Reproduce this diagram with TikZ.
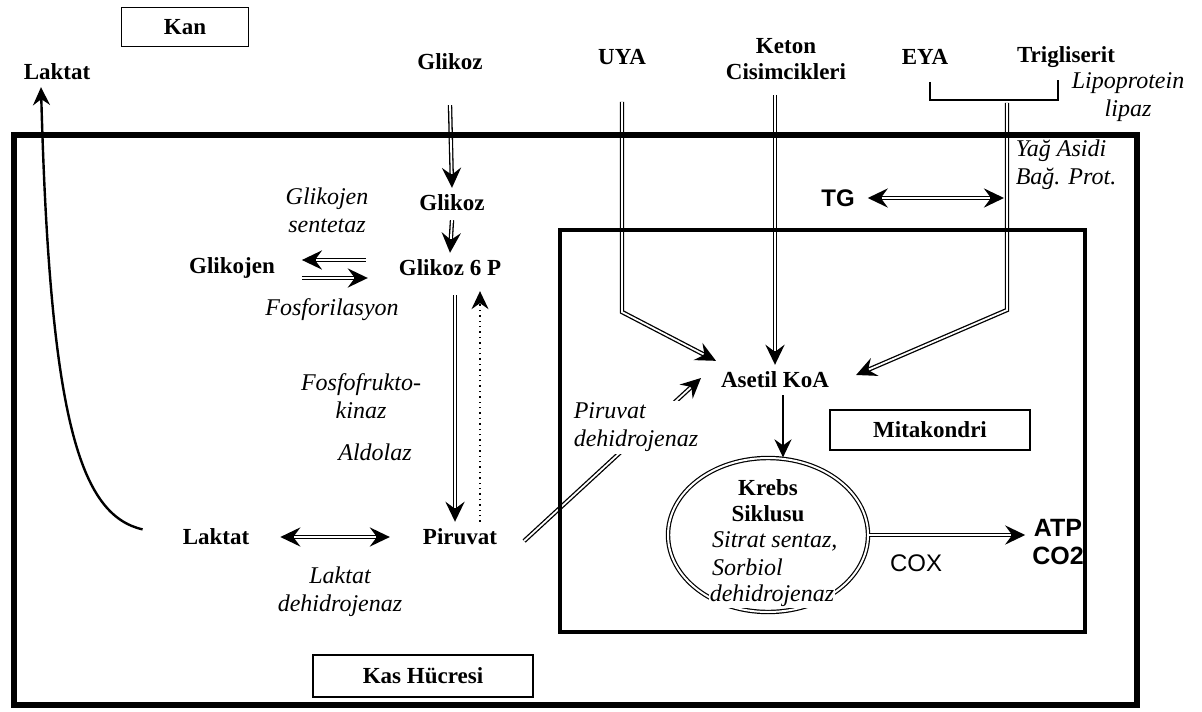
\documentclass[tikz,border=0pt]{standalone}
\usepackage{fontspec}
\setmainfont{Liberation Serif}
\setsansfont{Liberation Sans}
\usetikzlibrary{arrows.meta,shapes.geometric,calc}

\tikzset{
  molec/.style={font=\fontsize{11.5}{13}\selectfont\bfseries, align=center},
  enzyme/.style={font=\fontsize{12}{14}\selectfont\itshape, align=center},
  sanslab/.style={font=\sffamily\bfseries\fontsize{12.5}{14}\selectfont, align=center},
  kbox/.style={draw, line width=0.8pt, font=\fontsize{11.5}{13}\selectfont\bfseries},
  dbl/.style={line width=2.2pt, postaction={draw=white, line width=0.9pt}},
  dblhead/.style={line width=2.2pt, -{Stealth[length=10pt,width=9.5pt,inset=3.5pt]},
    postaction={draw=white, line width=0.9pt, -, shorten >=7pt}},
  dbltwo/.style={line width=2.2pt, {Stealth[length=10pt,width=9.5pt,inset=3.5pt]}-{Stealth[length=10pt,width=9.5pt,inset=3.5pt]},
    postaction={draw=white, line width=0.9pt, -, shorten >=7pt, shorten <=7pt}},
  headend/.style={-{Stealth[length=9pt,width=8.5pt,inset=3pt]}},
}

\begin{document}
\begin{tikzpicture}[x=0.5pt,y=-0.5pt]
  \useasboundingbox (0,0) rectangle (1202,711);

  % blood side
  \node[kbox, minimum width=63.5pt, minimum height=19.5pt] (kan) at (185,27) {Kan};
  \node[molec] (lakkan) at (57,72) {Laktat};
  \node[molec] (glkan) at (450,62) {Glikoz};
  \node[molec] (uya) at (622,57) {UYA};
  \node[molec] (keton) at (786,59) {Keton\\Cisimcikleri};
  \node[molec] (eya) at (925,57) {EYA};
  \node[molec] (tgkan) at (1066,57) {Trigliserit};
  \node[enzyme] (lpl) at (1128,97) {Lipoprotein\\lipaz};

  % cytosol
  \node[enzyme, align=left] (fabp) at (1066,165) {Yağ Asidi\\Bağ. Prot.};
  \node[sanslab, font=\sffamily\bfseries\fontsize{12}{14}\selectfont] (tg) at (838,198) {TG};
  \node[molec] (glic) at (452,203) {Glikoz};
  \node[molec] (g6p) at (450,268) {Glikoz 6 P};
  \node[molec] (glikojen) at (232,268) {Glikojen};
  \node[enzyme] (gs) at (327,210) {Glikojen\\sentetaz};
  \node[enzyme] (fosf) at (332,310) {Fosforilasyon};
  \node[enzyme] (pfk) at (361,396) {Fosfofrukto-\\kinaz};
  \node[enzyme] (aldo) at (375,452) {Aldolaz};
  \node[molec] (piruvat) at (460,537) {Piruvat};
  \node[molec] (laktat) at (216,537) {Laktat};
  \node[enzyme] (ldh) at (340,592) {Laktat\\dehidrojenaz};
  \node[kbox, minimum width=110pt, minimum height=21pt] (kas) at (423,676) {Kas Hücresi};

  % mitochondrion
  \node[molec] (aset) at (775,380) {Asetil KoA};
  \node[kbox, minimum width=100pt, minimum height=20pt] (mito) at (930,430) {Mitakondri};
  \node[draw, ellipse, double, double distance=1pt, line width=0.6pt, minimum width=100pt, minimum height=77pt, inner sep=0pt] (krebs) at (768,535) {};
  \node[molec] (krebst) at (768,501) {Krebs\\Siklusu};
  \node[enzyme, align=left, anchor=west] (cs) at (705,554) {Sitrat sentaz,\\Sorbiol};
  \node[enzyme, fill=white, inner sep=0.5pt] (sdh) at (772,596) {dehidrojenaz};
  \node[sanslab] (atp) at (1058,542) {ATP\\CO2};
  \node[sanslab, font=\sffamily\fontsize{12}{14}\selectfont] (cox) at (916,563) {COX};

  \coordinate (uyabend) at (622,312);
  \coordinate (lplmid) at (1007,103);
  \coordinate (eyabend) at (1007,310);

  % fatty acids, ketones
  \draw[line width=0.7pt] (930,82) -- (930,100) -- (1058,100) -- (1058,80);
  \draw[dblhead] ([yshift=-15pt]uya.south) -- (uyabend) -- ($(aset.north west)+(2,-4)$);
  \draw[dblhead] (aset.north |- 0,95) -- (aset.north);
  \draw[dblhead] (lplmid) -- (eyabend) -- ($(aset.east)+(20,-5)$);
  \draw[dbltwo] ([xshift=3pt]tg.east) -- ([xshift=-1.5pt]tg.east -| lplmid);

  % glycolysis
  \draw[dblhead] ([yshift=-14pt]glkan.south) -- (glic.north);
  \draw[dblhead] ([yshift=-1pt]glic.south) -- (g6p.north);
  \draw[dblhead] ([xshift=-13pt,yshift=4pt]g6p.west) -- ([xshift=10pt,yshift=4pt]glikojen.east);
  \draw[dblhead] ([xshift=10pt,yshift=-5pt]glikojen.east) -- ([xshift=-12pt,yshift=-5pt]g6p.west);
  \draw[dblhead] ([xshift=2.5pt,yshift=-6pt]g6p.south) -- ([xshift=2.5pt]g6p.south |- piruvat.north);
  \draw[dotted, line width=0.7pt, headend, shorten >=4pt] ([xshift=15pt]g6p.south |- piruvat.north) -- ([xshift=15pt]g6p.south);
  \draw[dbltwo] ([xshift=12pt]laktat.east) -- ([xshift=-13pt]piruvat.west);
  \draw[line width=1.2pt, headend, shorten <=17pt] (laktat.west) .. controls (80,515) and (50,420) .. ([xshift=-8pt]lakkan.south);

  % pyruvate into mitochondrion
  \draw[dblhead] ([xshift=10pt,yshift=-2pt]piruvat.east) -- ($(aset.west)+(-13,-2)$);
  \node[enzyme, align=left, fill=white, inner sep=1pt] (pdh) at (636,427) {Piruvat\\dehidrojenaz};
  \draw[line width=1.2pt, headend] ([xshift=4pt]aset.south) -- ([xshift=4pt]aset.south |- krebs.north);
  \draw[dblhead] (krebs.east) -- (krebs.east -| atp.west);

  % membranes
  \draw[line width=3pt] (14,135) rectangle (1137,705);
  \draw[line width=2.4pt] (560,230) rectangle (1085,632);
\end{tikzpicture}
\end{document}
